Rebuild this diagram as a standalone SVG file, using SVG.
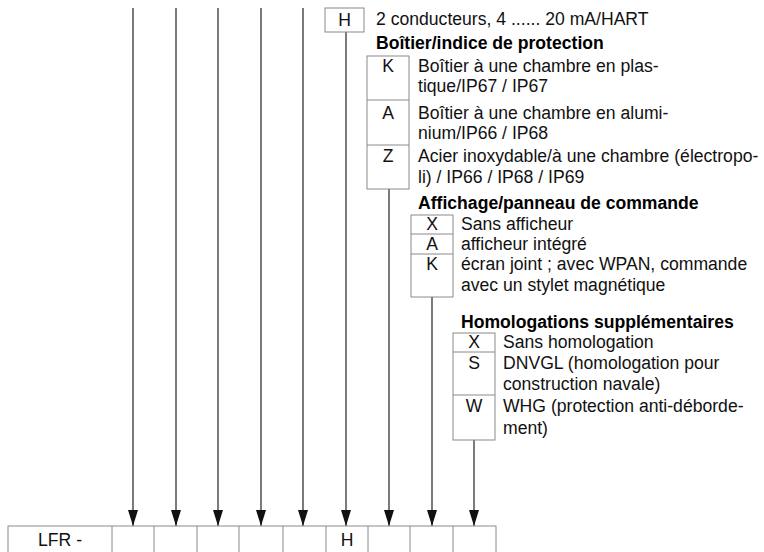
<svg xmlns="http://www.w3.org/2000/svg" width="764" height="552" viewBox="0 0 764 552">
<defs>
<style>
.t{font-family:"Liberation Sans",Arial,sans-serif;font-size:17.6px;fill:#111}
.b{font-family:"Liberation Sans",Arial,sans-serif;font-size:17.6px;font-weight:bold;fill:#000}
.c{text-anchor:middle}
.box{fill:#fff;stroke:#8a8a8a;stroke-width:1}
.ln{stroke:#222;stroke-width:1.2;fill:none}
</style>
<marker id="ah" markerWidth="16" markerHeight="10" refX="16" refY="5" orient="auto" markerUnits="userSpaceOnUse" viewBox="0 0 16 10">
<path d="M0,0 L16,5 L0,10 Z" fill="#111"/>
</marker>
</defs>
<rect width="764" height="552" fill="#fff"/>
<g id="connectors">
<line class="ln" x1="133" y1="8" x2="133" y2="526" marker-end="url(#ah)"/>
<line class="ln" x1="176" y1="8" x2="176" y2="526" marker-end="url(#ah)"/>
<line class="ln" x1="218" y1="8" x2="218" y2="526" marker-end="url(#ah)"/>
<line class="ln" x1="261" y1="8" x2="261" y2="526" marker-end="url(#ah)"/>
<line class="ln" x1="303" y1="8" x2="303" y2="526" marker-end="url(#ah)"/>
<line class="ln" x1="346" y1="32" x2="346" y2="526" marker-end="url(#ah)"/>
<line class="ln" x1="389" y1="189" x2="389" y2="526" marker-end="url(#ah)"/>
<line class="ln" x1="432" y1="297" x2="432" y2="526" marker-end="url(#ah)"/>
<line class="ln" x1="474" y1="440" x2="474" y2="526" marker-end="url(#ah)"/>
</g>
<g id="node-electronics">
<rect class="box" x="325" y="8" width="39" height="24"/>
<text class="t c" x="344.5" y="26">H</text>
<text class="t" x="376" y="25">2 conducteurs, 4 ...... 20 mA/HART</text>
</g>
<g id="node-housing">
<text class="b" x="376" y="49">Boîtier/indice de protection</text>
<rect class="box" x="367" y="56" width="42" height="133"/>
<line class="box" x1="367" y1="100" x2="409" y2="100"/>
<line class="box" x1="367" y1="145" x2="409" y2="145"/>
<text class="t c" x="388" y="72">K</text>
<text class="t" x="418" y="72">Boîtier à une chambre en plas-</text>
<text class="t" x="418" y="92">tique/IP67 / IP67</text>
<text class="t c" x="388" y="119">A</text>
<text class="t" x="418" y="119">Boîtier à une chambre en alumi-</text>
<text class="t" x="418" y="139">nium/IP66 / IP68</text>
<text class="t c" x="388" y="162">Z</text>
<text class="t" x="418" y="162">Acier inoxydable/à une chambre (électropo-</text>
<text class="t" x="418" y="183">li) / IP66 / IP68 / IP69</text>
</g>
<g id="node-display">
<text class="b" x="418" y="209">Affichage/panneau de commande</text>
<rect class="box" x="411" y="215" width="42" height="82"/>
<line class="box" x1="411" y1="234" x2="453" y2="234"/>
<line class="box" x1="411" y1="254" x2="453" y2="254"/>
<text class="t c" x="432" y="230">X</text>
<text class="t" x="461" y="230">Sans afficheur</text>
<text class="t c" x="432" y="250">A</text>
<text class="t" x="461" y="250">afficheur intégré</text>
<text class="t c" x="432" y="270">K</text>
<text class="t" x="461" y="270">écran joint ; avec WPAN, commande</text>
<text class="t" x="461" y="291">avec un stylet magnétique</text>
</g>
<g id="node-approvals">
<text class="b" x="461" y="328">Homologations supplémentaires</text>
<rect class="box" x="453" y="333" width="42" height="107"/>
<line class="box" x1="453" y1="352" x2="495" y2="352"/>
<line class="box" x1="453" y1="395" x2="495" y2="395"/>
<text class="t c" x="474" y="348">X</text>
<text class="t" x="503" y="348">Sans homologation</text>
<text class="t c" x="474" y="369">S</text>
<text class="t" x="503" y="369">DNVGL (homologation pour</text>
<text class="t" x="503" y="390">construction navale)</text>
<text class="t c" x="474" y="412">W</text>
<text class="t" x="503" y="412">WHG (protection anti-déborde-</text>
<text class="t" x="503" y="434">ment)</text>
</g>
<g id="node-code">
<rect class="box" x="8" y="526" width="488" height="40"/>
<line class="box" x1="112" y1="526" x2="112" y2="552"/>
<line class="box" x1="154" y1="526" x2="154" y2="552"/>
<line class="box" x1="197" y1="526" x2="197" y2="552"/>
<line class="box" x1="239" y1="526" x2="239" y2="552"/>
<line class="box" x1="283" y1="526" x2="283" y2="552"/>
<line class="box" x1="326" y1="526" x2="326" y2="552"/>
<line class="box" x1="368" y1="526" x2="368" y2="552"/>
<line class="box" x1="410" y1="526" x2="410" y2="552"/>
<line class="box" x1="453" y1="526" x2="453" y2="552"/>
<text class="t c" x="60" y="546">LFR -</text>
<text class="t c" x="347" y="546">H</text>
</g>
</svg>
